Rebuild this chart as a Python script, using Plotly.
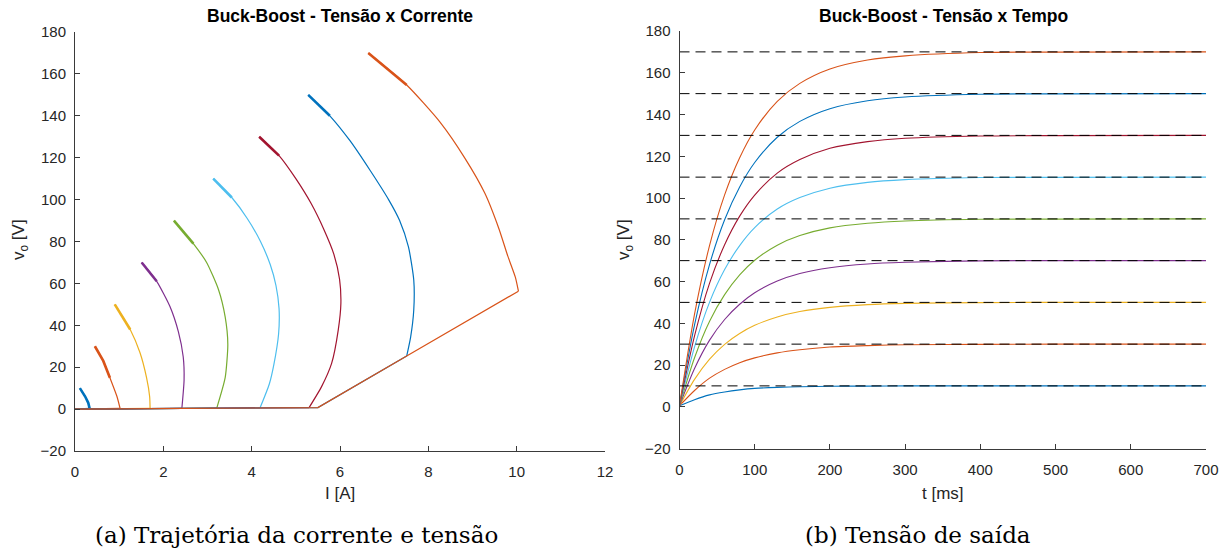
import plotly.graph_objects as go

# ---------------- data ----------------
# reference voltages (V) for each run, and MATLAB default colour order
v_ref = [10, 30, 50, 70, 90, 110, 130, 150, 170]
colors = ["#0072BD", "#D95319", "#EDB120", "#7E2F8E", "#77AC30",
          "#4DBEEE", "#A2142F", "#0072BD", "#D95319"]

# current/voltage trajectory: ramp from the origin, then arc up to the set-point
ramp_i = [
    [0, 0.33], [0, 1.02], [0, 1.70], [0, 2.42], [0, 3.21],
    [0, 4.19], [0, 5.30], [0, 5.50, 7.51], [0, 5.50, 7.51, 10.04],
]
ramp_v = [
    [0, 0.4], [0, 0.4], [0, 0.4], [0, 0.4], [0, 0.5],
    [0, 0.6], [0, 0.7], [0, 0.7, 25.3], [0, 0.7, 25.3, 56.3],
]
arc_i = [
    [0.33, 0.30, 0.23, 0.11],
    [1.02, 0.95, 0.79, 0.64, 0.45],
    [1.70, 1.69, 1.62, 1.47, 1.25, 0.90],
    [2.42, 2.47, 2.45, 2.34, 2.15, 1.85, 1.51],
    [3.21, 3.40, 3.46, 3.40, 3.25, 2.98, 2.68, 2.24],
    [4.19, 4.40, 4.50, 4.61, 4.62, 4.55, 4.42, 4.20, 3.90, 3.55, 3.13],
    [5.30, 5.58, 5.81, 5.96, 6.02, 5.99, 5.86, 5.63, 5.35, 5.00, 4.62, 4.17],
    [7.51, 7.60, 7.67, 7.67, 7.55, 7.35, 7.10, 6.68, 6.23, 5.77, 5.28],
    [10.04, 9.97, 9.80, 9.60, 9.28, 8.83, 8.26, 7.51, 6.64],
]
arc_v = [
    [0.4, 3, 6, 10],
    [0.4, 6, 15, 23, 30],
    [0.4, 6, 15, 27, 38, 50],
    [0.4, 14, 25, 37, 49, 61, 70],
    [0.5, 15, 31, 44, 57, 70, 79, 90],
    [0.6, 12, 21, 36, 48, 59, 69, 80, 91, 101, 110],
    [0.7, 10.6, 21.8, 37.7, 50.4, 62, 74, 86, 98, 110, 121, 130],
    [25.3, 34.5, 47.3, 61.6, 77.4, 90, 100, 114, 128, 140, 150],
    [56.3, 63, 73, 86, 103, 119.7, 137.1, 154.7, 170],
]

# output voltage vs time (ms)
t_ms = [0, 20, 40, 60, 80, 100, 130, 160, 200, 250, 300, 400, 500, 700]
v_out = [
    [0.5, 3.4, 5.7, 7.1, 8.1, 8.8, 9.3, 9.6, 9.8, 9.9, 10, 10, 10, 10],
    [0.5, 7.8, 13.7, 17.9, 21.1, 23.4, 25.8, 27.3, 28.6, 29.3, 29.7, 29.9, 30, 30],
    [0.5, 13.1, 22.8, 29.9, 35.1, 39.0, 43.0, 45.6, 47.6, 48.9, 49.5, 49.9, 50, 50],
    [0.5, 18.3, 31.9, 41.8, 49.1, 54.6, 60.2, 63.8, 66.6, 68.4, 69.2, 69.9, 70, 70],
    [0.5, 23.5, 41.0, 53.7, 63.2, 70.2, 77.4, 82.0, 85.7, 87.9, 89.0, 89.8, 89.9, 90],
    [0.5, 28.7, 50.1, 65.7, 77.2, 85.8, 94.7, 100.2, 104.7, 107.5, 108.8, 109.8, 109.9, 110],
    [0.5, 33.9, 59.2, 77.6, 91.3, 101.4, 111.9, 118.4, 123.8, 127.0, 128.6, 129.7, 129.9, 130],
    [0.5, 39.2, 68.2, 89.6, 105.3, 117.0, 129.1, 136.7, 142.8, 146.6, 148.4, 149.7, 149.9, 150],
    [0.5, 44.4, 77.3, 101.5, 119.3, 132.6, 146.3, 154.9, 161.8, 166.1, 168.1, 169.7, 169.9, 170],
]
t_end = 700

x_ticks_a = [0, 2, 4, 6, 8, 10, 12]
x_ticks_b = [0, 100, 200, 300, 400, 500, 600, 700]
y_ticks = [-20, 0, 20, 40, 60, 80, 100, 120, 140, 160, 180]

# ---------------- figure ----------------
W, H = 1229, 556
fig = go.Figure()

for k, ref in enumerate(v_ref):
    c = colors[k]
    fig.add_trace(go.Scatter(x=ramp_i[k], y=ramp_v[k], mode="lines",
                             line=dict(color=c, width=1.2),
                             xaxis="x", yaxis="y", showlegend=False))
    fig.add_trace(go.Scatter(x=arc_i[k], y=arc_v[k], mode="lines",
                             line=dict(color=c, width=1.2, shape="spline", smoothing=0.6),
                             xaxis="x", yaxis="y", showlegend=False))
    # settled region near the set-point drawn heavier
    top_i = [i for i, v in zip(arc_i[k], arc_v[k]) if v >= ref - 16]
    top_v = [v for v in arc_v[k] if v >= ref - 16]
    fig.add_trace(go.Scatter(x=top_i, y=top_v, mode="lines",
                             line=dict(color=c, width=2.6),
                             xaxis="x", yaxis="y", showlegend=False))

for k, ref in enumerate(v_ref):
    fig.add_trace(go.Scatter(x=t_ms, y=v_out[k], mode="lines",
                             line=dict(color=colors[k], width=1.1, shape="spline", smoothing=0.8),
                             xaxis="x2", yaxis="y2", showlegend=False))
for ref in v_ref:
    fig.add_trace(go.Scatter(x=[0, t_end], y=[ref, ref], mode="lines",
                             line=dict(color="black", width=1, dash="10px,6px"),
                             xaxis="x2", yaxis="y2", showlegend=False))

axis_common = dict(showline=True, linecolor="#3a3a3a", linewidth=1,
                   ticks="inside", ticklen=5, tickcolor="#3a3a3a", tickwidth=1,
                   showgrid=False, zeroline=False, mirror=False, automargin=False,
                   tickfont=dict(family="Liberation Sans", size=15, color="#262626"))

fig.update_layout(
    width=W, height=H, margin=dict(l=0, r=0, t=0, b=0, pad=0), autosize=False,
    paper_bgcolor="white", plot_bgcolor="white",
    xaxis=dict(domain=[75 / W, 605 / W], range=[0, 12], tickvals=x_ticks_a,
               anchor="y", ticklabelstandoff=7, **axis_common),
    yaxis=dict(domain=[1 - 451 / H, 1 - 32 / H], range=[-20, 180], tickvals=y_ticks,
               anchor="x", ticklabelstandoff=5, **axis_common),
    xaxis2=dict(domain=[679.5 / W, 1206 / W], range=[0, 700], tickvals=x_ticks_b,
                anchor="y2", ticklabelstandoff=7, **axis_common),
    yaxis2=dict(domain=[1 - 448.5 / H, 1 - 31 / H], range=[-20, 180], tickvals=y_ticks,
                anchor="x2", ticklabelstandoff=5, **axis_common),
)

lab = dict(family="Liberation Sans", size=17, color="#262626")
ttl = dict(family="Liberation Sans", size=17.5, color="black")
cap = dict(family="DejaVu Serif", size=23, color="black")
annotations = [
    dict(text="<b>Buck-Boost - Tensão x Corrente</b>", x=340 / W, y=1 - 16 / H, font=ttl),
    dict(text="<b>Buck-Boost - Tensão x Tempo</b>", x=943 / W, y=1 - 16 / H, font=ttl),
    dict(text="I [A]", x=340 / W, y=1 - 493 / H, font=lab),
    dict(text="t [ms]", x=943 / W, y=1 - 493 / H, font=lab),
    dict(text="v<sub>o</sub> [V]", x=20 / W, y=1 - 240 / H, textangle=-90, font=lab),
    dict(text="v<sub>o</sub> [V]", x=625 / W, y=1 - 240 / H, textangle=-90, font=lab),
    dict(text="(a) Trajetória da corrente e tensão", x=296 / W, y=1 - 535 / H, font=cap),
    dict(text="(b) Tensão de saída", x=918 / W, y=1 - 535 / H, font=cap),
]
for a in annotations:
    fig.add_annotation(xref="paper", yref="paper", showarrow=False,
                       xanchor="center", yanchor="middle", **a)

fig.write_html("out.html")
